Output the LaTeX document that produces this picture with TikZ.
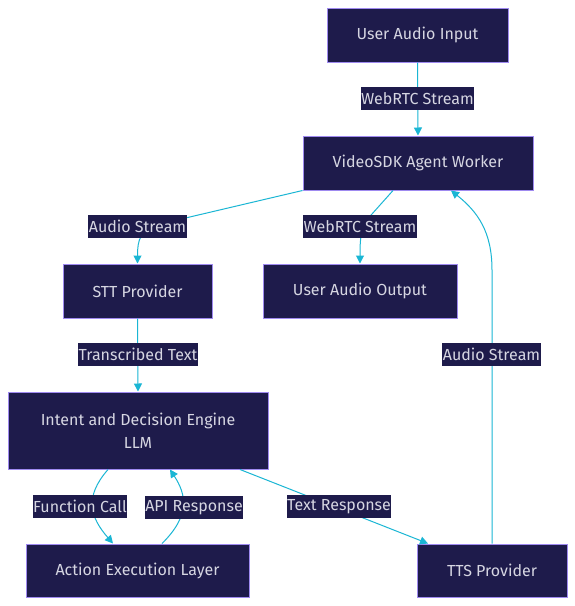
\documentclass[tikz,border=0pt]{standalone}
\usepackage{fontspec}
\setmainfont{Fira Sans}
\usetikzlibrary{arrows.meta}
\definecolor{nodefill}{HTML}{1E1B4B}
\definecolor{nodeline}{HTML}{9F8AF0}
\definecolor{edgecol}{HTML}{1AB6D4}
\definecolor{txtcol}{HTML}{D6D6E2}
\begin{document}
\begin{tikzpicture}[x=1pt,y=-1pt,
  box/.style={draw=nodeline,fill=nodefill,line width=1pt,text=txtcol,
    font=\fontsize{16}{23}\selectfont,inner sep=0pt,align=center},
  lbl/.style={fill=nodefill,text=txtcol,font=\fontsize{16}{19}\selectfont,
    inner xsep=0.5pt,inner ysep=0pt,minimum height=23pt},
  conn/.style={draw=edgecol,line width=1pt,-{Triangle[length=8pt,width=8pt]}}]
\useasboundingbox (0,0) rectangle (575,606);
\fill[white] (0,0) rectangle (575,606);

\node[box,minimum width=181,minimum height=54] (uai) at (417.5,35) {User Audio Input};
\node[box,minimum width=230,minimum height=54] (vaw) at (418,163) {VideoSDK Agent Worker};
\node[box,minimum width=149,minimum height=54] (stt) at (137.5,291) {STT Provider};
\node[box,minimum width=194,minimum height=54] (uao) at (360,291) {User Audio Output};
\node[box,minimum width=260,minimum height=77] (llm) at (138,430.5) {Intent and Decision Engine\\LLM};
\node[box,minimum width=223,minimum height=53] (ael) at (137.5,570.5) {Action Execution Layer};
\node[box,minimum width=150,minimum height=53] (tts) at (492,570.5) {TTS Provider};

\draw[conn] (uai.south) -- (vaw.north);
\draw[conn] (vaw.south west) -- (160,224) .. controls (140,229) and (137.5,240) .. (stt.north);
\draw[conn] ([xshift=-25pt]vaw.south) -- (372,214) .. controls (361,226) and (360,236) .. (uao.north);
\draw[conn] (tts.north) -- (492,270) .. controls (492,232) and (478,212) .. ([xshift=33pt]vaw.south);
\draw[conn] (stt.south) -- (llm.north);
\draw[conn] ([xshift=-30pt]llm.south) .. controls (84,497) and (90,517) .. ([xshift=-24.5pt]ael.north);
\draw[conn] ([xshift=24.5pt]ael.north) .. controls (191,515) and (186,494) .. ([xshift=32pt]llm.south);
\draw[conn] ([xshift=102pt]llm.south) -- ([xshift=-64pt]tts.north);

\node[lbl] (l1) at (417.5,98.5) {WebRTC Stream};
\node[lbl] (l2) at (137.5,226.5) {Audio Stream};
\node[lbl] (l3) at (360,226.5) {WebRTC Stream};
\node[lbl] (l4) at (138,354.5) {Transcribed Text};
\node[lbl] (l5) at (491.5,354.5) {Audio Stream};
\node[lbl] (l6) at (80,506.5) {Function Call};
\node[lbl] (l7) at (194,507.5) {API Response};
\node[lbl] (l8) at (339,506.5) {Text Response};
\end{tikzpicture}
\end{document}
